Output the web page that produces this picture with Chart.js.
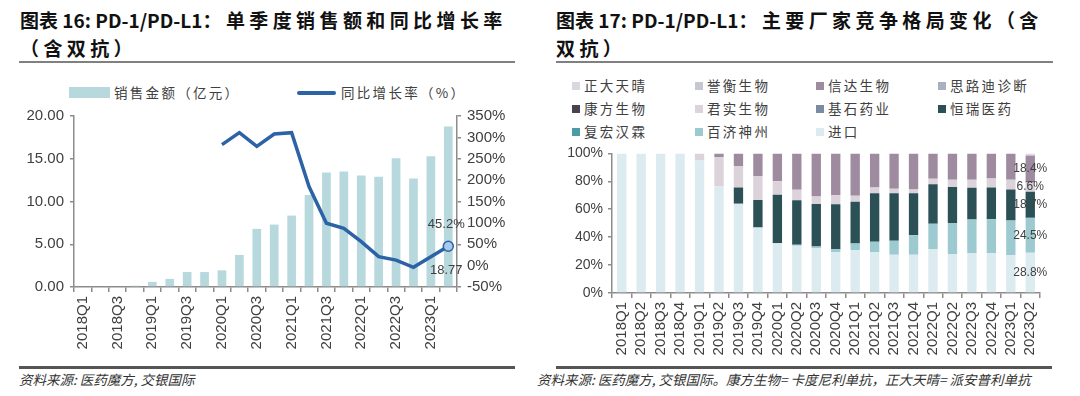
<!DOCTYPE html>
<html>
<head>
<meta charset="utf-8">
<script src="https://cdn.jsdelivr.net/npm/chart.js@4.4.0/dist/chart.umd.min.js"></script>
<style>
  body { margin: 0; background: #fff; }
  #wrap { position: relative; width: 1080px; height: 396px; overflow: hidden; font-family: "Noto Sans CJK SC", sans-serif; }
  .title { position: absolute; top: 6px; font-weight: 700; font-size: 19px; line-height: 28px; color: #111; white-space: nowrap; }
  .title .cn { letter-spacing: 4.4px; }
  .rule { position: absolute; height: 2px; background: #808080; }
  .rule.bottom { height: 2.5px; background: #555; }
  .src { position: absolute; top: 369px; font-size: 13.5px; font-style: italic; color: #333; white-space: nowrap; }
  .leg { position: absolute; font-size: 13.5px; color: #404040; letter-spacing: 2.3px; white-space: nowrap; line-height: 18px; }
  .sq { position: absolute; width: 8px; height: 8px; }
  canvas { position: absolute; }
</style>
</head>
<body>
<div id="wrap">
  <div class="title" style="left:20px">图表 16: PD-1/PD-L1<span class="cn">：单季度销售额和同比增长率</span><br><span class="cn">（含双抗）</span></div>
  <div class="title" style="left:556px">图表 17: PD-1/PD-L1<span class="cn">：主要厂家竞争格局变化（含</span><br><span class="cn">双抗）</span></div>
  <div class="rule" style="left:19px;top:61px;width:496px"></div>
  <div class="rule" style="left:556px;top:61px;width:497px"></div>

  <div style="position:absolute;left:69px;top:87px;width:41px;height:11px;background:#b7d9dd"></div>
  <div class="leg" style="left:114px;top:83px">销售金额（亿元）</div>
  <div style="position:absolute;left:297px;top:91px;width:39px;height:3.5px;background:#2c62a6;border-radius:2px"></div>
  <div class="leg" style="left:341px;top:83px">同比增长率（%）</div>

  <div id="legRight"></div>

  <canvas id="chart-left" width="520" height="257" style="left:0;top:100px"></canvas>
  <canvas id="chart-right" width="530" height="223" style="left:530px;top:140px"></canvas>

  <div class="rule bottom" style="left:19px;top:366px;width:496px"></div>
  <div class="rule bottom" style="left:556px;top:366px;width:496px"></div>
  <div class="src" style="left:19px">资料来源: 医药魔方, 交银国际</div>
  <div class="src" style="left:537px">资料来源: 医药魔方, 交银国际。康方生物= 卡度尼利单抗，正大天晴= 派安普利单抗</div>
</div>

<script>
const quarters = [
  "2018Q1", "2018Q2", "2018Q3", "2018Q4",
  "2019Q1", "2019Q2", "2019Q3", "2019Q4",
  "2020Q1", "2020Q2", "2020Q3", "2020Q4",
  "2021Q1", "2021Q2", "2021Q3", "2021Q4",
  "2022Q1", "2022Q2", "2022Q3", "2022Q4",
  "2023Q1", "2023Q2",
];

// 单季度销售额（亿元）
const sales = [
  0, 0, 0, 0.15, 0.6, 0.95, 1.75, 1.75, 1.95, 3.75, 6.8,
  7.3, 8.35, 10.75, 13.4, 13.5, 13.05, 12.9, 15.05, 12.7, 15.3, 18.77,
];
// 同比增长率（%）
const growth = [
  null, null, null, null, null, null, null, null, 283, 311, 279,
  308, 311, 185, 99, 87, 56, 21, 13, -4, 21, 45.2,
];

// 竞争格局（%），从下往上堆叠
const shareImport = [100, 100, 100, 100, 95, 76.5, 64, 47, 35.7, 33.8, 32.1, 29.3, 30.7, 29.3, 27.4, 27.4, 31.6, 28, 28.6, 28.7, 27, 28.8];
const shareBeigene = [0, 0, 0, 0, 0, 0, 0, 0, 0, 0.7, 1.2, 2.3, 4.7, 7.5, 10, 14, 18, 22.2, 24, 24.2, 25, 24.5];
const shareHenlius = [0, 0, 0, 0, 0, 0, 0, 0, 0, 0, 0, 0, 0, 0, 0, 0, 0, 0, 0, 0, 0, 0.6];
const shareHengrui = [0, 0, 0, 0, 0, 0, 11.5, 19.7, 34.7, 32, 30.4, 31.9, 30, 34.7, 34, 30, 28.3, 25.8, 22.8, 22.6, 22.2, 18.7];
const shareCstone = [0, 0, 0, 0, 0, 0, 0, 0, 0, 0, 0, 0, 0, 0, 0, 0, 0, 0, 0, 0, 0, 0];
const shareJunshi = [0, 0, 0, 0, 5, 21, 15.5, 17.1, 9.6, 7.5, 5.4, 6.6, 4.2, 4, 3.3, 2.8, 4, 5.2, 5.8, 6.5, 7.1, 6.6];
const shareAkeso = [0, 0, 0, 0, 0, 0, 0, 0, 0, 0, 0, 0, 0, 0, 0, 0, 0, 0, 0, 0, 0.6, 0.8];
const shareSiludi = [0, 0, 0, 0, 0, 0, 0, 0, 0, 0, 0, 0, 0, 0, 0, 0, 0, 0, 0, 0, 0, 0];
const shareInnovent = [0, 0, 0, 0, 0, 2.5, 9, 16.2, 20, 26, 30.9, 29.9, 30.4, 24.5, 25.3, 25.8, 18.1, 18.8, 18.8, 18, 18.1, 18.4];
const shareYuheng = [0, 0, 0, 0, 0, 0, 0, 0, 0, 0, 0, 0, 0, 0, 0, 0, 0, 0, 0, 0, 0, 0.6];
const shareCttq = [0, 0, 0, 0, 0, 0, 0, 0, 0, 0, 0, 0, 0, 0, 0, 0, 0, 0, 0, 0, 0, 1.0];

const companies = ["进口", "百济神州", "复宏汉霖", "恒瑞医药", "基石药业", "君实生物", "康方生物", "思路迪诊断", "信达生物", "誉衡生物", "正大天晴"];
const shares = [shareImport, shareBeigene, shareHenlius, shareHengrui, shareCstone, shareJunshi, shareAkeso, shareSiludi, shareInnovent, shareYuheng, shareCttq];
const companyColors = ["#dcebef", "#9dcad0", "#4b9ca5", "#2b5157", "#7a8aa2", "#dbd2da", "#4b4250", "#a9b1c0", "#9e8b9f", "#c5c8d1", "#d8d8de"];
const labelledCompanies = ["进口", "百济神州", "恒瑞医药", "君实生物", "信达生物"];

const axisColor = "#8c8c8c";
const tickFont = { family: "Liberation Sans", size: 15 };
const tickColor = "#404040";

// 右图图例：3 行 4 列，顺序与堆叠相反
const legendOrder = companies.slice().reverse();
const legendCols = [572, 695, 816, 938];
const legendRows = [86, 109, 132];
const legRight = document.querySelector("#legRight");
legendOrder.forEach((name, i) => {
  const col = legendCols[i % 4];
  const row = legendRows[Math.floor(i / 4)];
  const sq = document.createElement("div");
  sq.className = "sq";
  sq.style.left = col + "px";
  sq.style.top = row - 4 + "px";
  sq.style.background = companyColors[companies.indexOf(name)];
  legRight.appendChild(sq);
  const tx = document.createElement("div");
  tx.className = "leg";
  tx.style.left = col + 12 + "px";
  tx.style.top = row - 10 + "px";
  tx.textContent = name;
  legRight.appendChild(tx);
});

// 左图标签
const leftLabels = {
  id: "leftLabels",
  afterDatasetsDraw(chart) {
    const { ctx, scales } = chart;
    const i = quarters.length - 1;
    const x = scales.x.getPixelForValue(i);
    const y = scales.y2.getPixelForValue(growth[i]);
    ctx.save();
    ctx.font = '13px "Liberation Sans"';
    ctx.fillStyle = "#404040";
    ctx.textAlign = "center";
    ctx.textBaseline = "middle";
    ctx.fillText(growth[i].toFixed(1) + "%", x - 2, y - 22);
    ctx.fillText(sales[i].toFixed(2), x - 2, y + 24);
    ctx.restore();
  },
};

const chartLeft = document.querySelector("#chart-left").getContext("2d");
new Chart(chartLeft, {
  type: "bar",
  data: {
    labels: quarters,
    datasets: [
      {
        type: "line",
        data: growth,
        yAxisID: "y2",
        borderColor: "#2c62a6",
        borderWidth: 3.5,
        tension: 0,
        spanGaps: false,
        pointRadius: growth.map((v, i) => (i === growth.length - 1 ? 5 : 0)),
        pointBackgroundColor: "#a9c9ec",
        pointBorderColor: "#2c62a6",
        pointBorderWidth: 1.5,
        order: 0,
      },
      {
        type: "bar",
        data: sales,
        yAxisID: "y",
        backgroundColor: "#b7d9dd",
        barPercentage: 0.5,
        categoryPercentage: 1,
        order: 1,
      },
    ],
  },
  options: {
    responsive: false,
    animation: false,
    layout: { padding: { top: 16, left: 0, right: 0, bottom: 0 } },
    plugins: { legend: { display: false }, tooltip: { enabled: false } },
    scales: {
      x: {
        grid: { display: true, drawOnChartArea: false, offset: true, tickLength: 5, color: axisColor, lineWidth: 1.5 },
        border: { color: axisColor, width: 1.5 },
        ticks: {
          autoSkip: false,
          maxRotation: 90,
          minRotation: 90,
          padding: 4,
          font: tickFont,
          color: tickColor,
          callback: (v, i) => (i % 2 === 0 ? quarters[i] : ""),
        },
        afterFit: (s) => { s.height = 70; },
      },
      y: {
        min: 0,
        max: 20,
        grid: { drawOnChartArea: false, tickLength: 4, color: axisColor, lineWidth: 1.5 },
        border: { color: axisColor, width: 1.5 },
        ticks: { stepSize: 5, font: tickFont, color: tickColor, padding: 6, callback: (v) => v.toFixed(2) },
        afterFit: (s) => { s.width = 74; },
      },
      y2: {
        position: "right",
        min: -50,
        max: 350,
        grid: { drawOnChartArea: false, tickLength: 4, color: axisColor, lineWidth: 1.5 },
        border: { color: axisColor, width: 1.5 },
        ticks: { stepSize: 50, font: tickFont, color: tickColor, padding: 6, callback: (v) => v + "%" },
        afterFit: (s) => { s.width = 63; },
      },
    },
  },
  plugins: [leftLabels],
});

// 右图最后一根柱子的标签
const rightLabels = {
  id: "rightLabels",
  afterDatasetsDraw(chart) {
    const { ctx } = chart;
    const i = quarters.length - 1;
    ctx.save();
    ctx.font = '12px "Liberation Sans"';
    ctx.fillStyle = "#404040";
    ctx.textAlign = "center";
    ctx.textBaseline = "middle";
    chart.data.datasets.forEach((ds, d) => {
      if (!labelledCompanies.includes(ds.label)) return;
      const bar = chart.getDatasetMeta(d).data[i];
      ctx.fillText(ds.data[i].toFixed(1) + "%", bar.x, (bar.y + bar.base) / 2);
    });
    ctx.restore();
  },
};

const chartRight = document.querySelector("#chart-right").getContext("2d");
new Chart(chartRight, {
  type: "bar",
  data: {
    labels: quarters,
    datasets: companies.map((name, k) => ({
      label: name,
      data: shares[k],
      backgroundColor: companyColors[k],
      barPercentage: 0.48,
      categoryPercentage: 1,
    })),
  },
  options: {
    responsive: false,
    animation: false,
    layout: { padding: { top: 12, right: 20, left: 0, bottom: 0 } },
    plugins: { legend: { display: false }, tooltip: { enabled: false } },
    scales: {
      x: {
        stacked: true,
        grid: { display: true, drawOnChartArea: false, offset: true, tickLength: 5, color: axisColor, lineWidth: 1.5 },
        border: { color: axisColor, width: 1.5 },
        ticks: { autoSkip: false, maxRotation: 90, minRotation: 90, padding: 4, font: tickFont, color: tickColor },
        afterFit: (s) => { s.height = 70; },
      },
      y: {
        stacked: true,
        min: 0,
        max: 100,
        grid: { drawOnChartArea: false, tickLength: 4, color: axisColor, lineWidth: 1.5 },
        border: { color: axisColor, width: 1.5 },
        ticks: { stepSize: 10, font: { family: "Liberation Sans", size: 14 }, color: tickColor, padding: 5, callback: (v) => v + "%" },
        afterFit: (s) => { s.width = 82; },
      },
    },
  },
  plugins: [rightLabels],
});
</script>
</body>
</html>
